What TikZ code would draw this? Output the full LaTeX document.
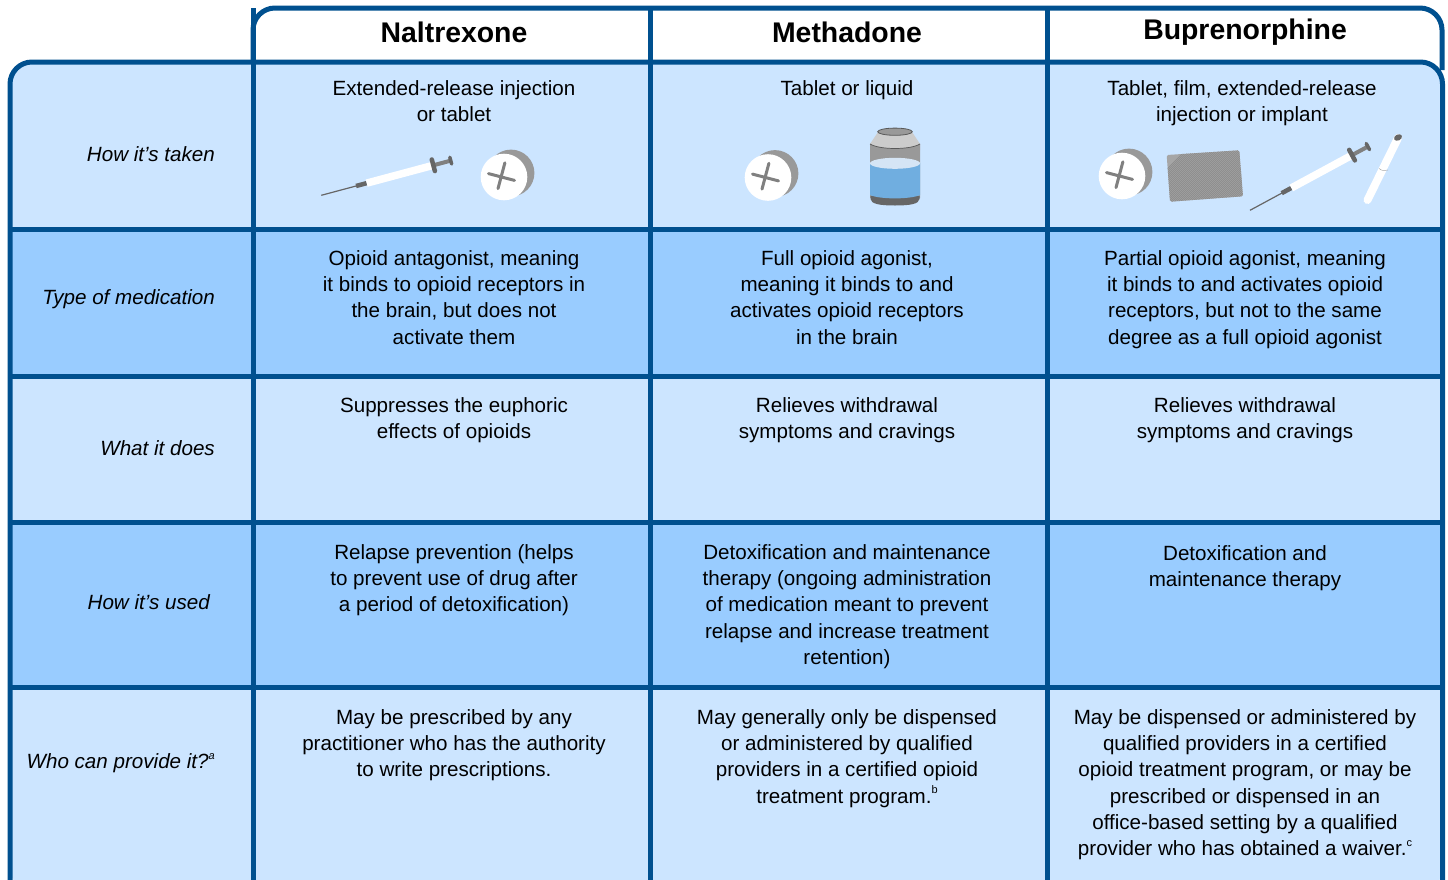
\documentclass[tikz,border=0pt]{standalone}
\usepackage{fontspec}
\setmainfont{Liberation Sans}
\definecolor{lineblue}{HTML}{00508F}
\definecolor{rowlight}{HTML}{CCE5FF}
\definecolor{rowdark}{HTML}{99CCFF}
\tikzset{
  x=1pt,y=-1pt,
  body/.style={font=\fontsize{20.6}{26.3}\selectfont,align=center,anchor=north,inner sep=0pt,text depth=0pt},
  head/.style={font=\fontsize{28.4}{32}\selectfont\bfseries,anchor=center,inner sep=0pt},
  rowlabel/.style={font=\fontsize{20.6}{26.3}\selectfont\itshape,anchor=east,inner sep=0pt},
  frame/.style={draw=lineblue,line width=5pt},
  pics/pill/.style={code={
    \fill[gray!80!white,fill=black!40] (7,-4) circle[radius=23.4];
    \fill[white] (0,0) circle[radius=23.3];
    \draw[black!50,line width=3pt,line cap=round] (-15.5,-3.4) -- (10.5,3.4);
    \draw[black!50,line width=3pt,line cap=round] (0.9,-14.2) -- (-6,11.6);
  }},
  pics/syringe/.style={code={
    \draw[black!60,line width=1.2pt] (0,0) -- (37,0);
    \draw[black!60,line width=4.5pt] (36,0) -- (47,0);
    \draw[white,line width=7.5pt] (47,0) -- (116,0);
    \draw[black!50!white,line width=4pt] (116,0) -- (134,0);
    \draw[black!60,line width=4.5pt,line cap=round] (116,-6) -- (116,6);
    \draw[black!60,line width=3.5pt,line cap=round] (134,-3.5) -- (134,3.5);
  }},
}
\begin{document}
\begin{tikzpicture}
\useasboundingbox (0,0) rectangle (1448,879);
\clip (0,0) rectangle (1448,879);
% row fills
\begin{scope}
\clip[rounded corners=22pt] (10,62) rectangle (1443,890);
\fill[rowlight] (0,50) rectangle (1448,229);
\fill[rowdark] (0,229) rectangle (1448,376);
\fill[rowlight] (0,376) rectangle (1448,522);
\fill[rowdark] (0,522) rectangle (1448,687);
\fill[rowlight] (0,687) rectangle (1448,900);
\end{scope}
% frames
\draw[frame,rounded corners=22pt] (253,62) -- (253,8) -- (1442,8) -- (1442,70);
\draw[frame,rounded corners=22pt] (10,890) -- (10,62) -- (1442.5,62) -- (1442.5,890);
\foreach \yy in {229,376,522,687} \draw[frame] (10,\yy) -- (1443,\yy);
\foreach \xx in {253,650,1047} \draw[frame] (\xx,8) -- (\xx,885);
% headers
\node[head] (h1) at (454,32) {Naltrexone};
\node[head] (h2) at (847,32) {Methadone};
\node[head] (h3) at (1245,32) {Buprenorphine};
% row labels
\node[rowlabel] (r1) at (215,154) {How it’s taken};
\node[rowlabel] (r2) at (215,299) {Type of medication};
\node[rowlabel] (r3) at (215,448) {What it does};
\node[rowlabel] (r4) at (210,602) {How it’s used};
\node[rowlabel] (r5) at (215,763) {Who can provide it?\raisebox{0.45em}{\fontsize{11}{11}\selectfont a}};
% row 1
\node[body] (a1) at (454,80) {Extended-release injection\\or tablet};
\node[body] (b1) at (847,80) {Tablet or liquid};
\node[body] (c1) at (1242,80) {Tablet, film, extended-release\\injection or implant};
% row 2
\node[body] (a2) at (454,250) {Opioid antagonist, meaning\\it binds to opioid receptors in\\the brain, but does not\\activate them};
\node[body] (b2) at (847,250) {Full opioid agonist,\\meaning it binds to and\\activates opioid receptors\\in the brain};
\node[body] (c2) at (1245,250) {Partial opioid agonist, meaning\\it binds to and activates opioid\\receptors, but not to the same\\degree as a full opioid agonist};
% row 3
\node[body] (a3) at (454,397) {Suppresses the euphoric\\effects of opioids};
\node[body] (b3) at (847,397) {Relieves withdrawal\\symptoms and cravings};
\node[body] (c3) at (1245,397) {Relieves withdrawal\\symptoms and cravings};
% row 4
\node[body] (a4) at (454,544) {Relapse prevention (helps\\to prevent use of drug after\\a period of detoxification)};
\node[body] (b4) at (847,544) {Detoxification and maintenance\\therapy (ongoing administration\\of medication meant to prevent\\relapse and increase treatment\\retention)};
\node[body] (c4) at (1245,545) {Detoxification and\\maintenance therapy};
% row 5
\node[body] (a5) at (454,709) {May be prescribed by any\\practitioner who has the authority\\to write prescriptions.};
\node[body] (b5) at (847,709) {May generally only be dispensed\\or administered by qualified\\providers in a certified opioid\\treatment program.\raisebox{0.45em}{\fontsize{11}{11}\selectfont b}};
\node[body] (c5) at (1245,709) {May be dispensed or administered by\\qualified providers in a certified\\opioid treatment program, or may be\\prescribed or dispensed in an\\office-based setting by a qualified\\provider who has obtained a waiver.\raisebox{0.45em}{\fontsize{11}{11}\selectfont c}};
% icons
\pic[shift={(321.3,195.3)},rotate=15] {syringe};
\pic at (504,177) {pill};
\pic at (768,177.5) {pill};
\pic at (1122,176) {pill};
\pic[shift={(1250,210.3)},rotate=28.4] {syringe};
% jar
\fill[black!20] (878,132) -- (870,144) -- (870,150) -- (920,150) -- (920,144) -- (912,132) -- cycle;
\fill[black!40] (870,144) .. controls (880,150) and (910,150) .. (920,144) -- (920,198) -- (870,198) -- cycle;
\draw[black!65,line width=0.7pt] (870,144) .. controls (880,150) and (910,150) .. (920,144);
\fill[black!60] (870.5,196) -- (870.5,199) .. controls (871,204) and (880,205.5) .. (895,205.5) .. controls (910,205.5) and (919,204) .. (919.5,199) -- (919.5,196) -- cycle;
\fill[black!60!white,fill=black!60] (871,196) rectangle (919,198);
\fill[blue!60!cyan!0,fill={rgb,255:red,112;green,174;blue,224}] (870,163) -- (920,163) -- (920,195) .. controls (910,199.5) and (880,199.5) .. (870,195) -- cycle;
\fill[fill={rgb,255:red,213;green,229;blue,245}] (895,163.3) ellipse[x radius=25,y radius=5.5];
\draw[black!65,fill=black!40,line width=0.8pt] (895,131.7) ellipse[x radius=17.3,y radius=3.6];
% film
\begin{scope}
\clip[rounded corners=1.5pt] (1166.7,155) -- (1239.3,150.3) -- (1243,196.3) -- (1170,201.7) -- cycle;
\fill[black!35] (1160,145) rectangle (1250,205);
\foreach \k in {0,2,...,140} \draw[black!45,line width=0.7pt] (1160+\k-30,206) -- (1160+\k+30,146);
\end{scope}
% implant
\draw[white,line width=8pt,line cap=round] (1367.5,200) -- (1398,138);
\fill[black!60,rotate around={25:(1398,137.5)}] (1398,137.5) ellipse[x radius=4.2,y radius=3];
\draw[black!40,line width=0.4pt] (1379,168.5) .. controls (1382,171) and (1385,171) .. (1388,170);
\end{tikzpicture}
\end{document}
